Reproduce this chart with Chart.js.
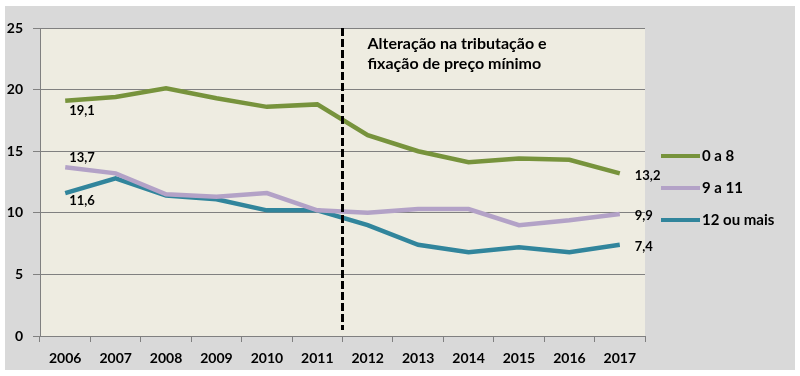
<!DOCTYPE html>
<html>
<head>
<meta charset="utf-8">
<script src="https://cdn.jsdelivr.net/npm/chart.js@4.4.1/dist/chart.umd.min.js"></script>
<style>
  html, body { margin: 0; padding: 0; background: #fff; }
  #wrap { width: 800px; height: 376px; }
</style>
</head>
<body>
<div id="wrap"><canvas id="chartcanvas" width="800" height="376"></canvas></div>
<script>
let years = ["2006", "2007", "2008", "2009", "2010", "2011", "2012", "2013", "2014", "2015", "2016", "2017"];
let serieA = [19.1, 19.4, 20.1, 19.3, 18.6, 18.8, 16.3, 15.0, 14.1, 14.4, 14.3, 13.2];   // 0 a 8
let serieB = [13.7, 13.2, 11.5, 11.3, 11.6, 10.2, 10.0, 10.3, 10.3, 9.0, 9.4, 9.9];      // 9 a 11
let serieC = [11.6, 12.8, 11.4, 11.1, 10.2, 10.2, 9.0, 7.4, 6.8, 7.2, 6.8, 7.4];         // 12 ou mais
let seriesNames = ["0 a 8", "9 a 11", "12 ou mais"];
let seriesColors = ["#77933c", "#b3a2c7", "#31859c"];
let yTicks = [0, 5, 10, 15, 20, 25];
let noteLines = ["Alteração na tributação e", "fixação de preço mínimo"];

const FONT = "Lato, 'Open Sans', sans-serif";

// fundo cinza e área do gráfico bege
const backgroundPlugin = {
    id: 'fundo',
    beforeDraw(chart) {
        let ctx = chart.ctx;
        let a = chart.chartArea;
        ctx.save();
        ctx.fillStyle = '#ffffff';
        ctx.fillRect(0, 0, chart.width, chart.height);
        ctx.fillStyle = '#d9d9d9';
        ctx.fillRect(5, 6, 790, 364);
        ctx.fillStyle = '#eeece1';
        ctx.fillRect(a.left, a.top, a.right - a.left, a.bottom - a.top);
        ctx.restore();
    }
};

// linha tracejada, nota, rótulos e legenda
const extrasPlugin = {
    id: 'extras',
    afterDatasetsDraw(chart) {
        let ctx = chart.ctx;
        let a = chart.chartArea;
        let xs = chart.scales.x;
        let xLine = (xs.getPixelForTick(5) + xs.getPixelForTick(6)) / 2;

        ctx.save();
        ctx.strokeStyle = '#000';
        ctx.lineWidth = 3;
        ctx.setLineDash([8, 3]);
        ctx.beginPath();
        ctx.moveTo(xLine, a.top);
        ctx.lineTo(xLine, a.bottom - 6);
        ctx.stroke();
        ctx.setLineDash([]);

        ctx.fillStyle = '#000';
        ctx.font = "bold 16px " + FONT;
        ctx.textBaseline = 'middle';
        ctx.textAlign = 'left';
        ctx.fillText(noteLines[0], xLine + 25, 44);
        ctx.fillText(noteLines[1], xLine + 25, 64);

        // rótulos de valores
        ctx.font = "bold 13px " + FONT;
        let first = [[4, 10], [4, -9], [4, 8]];
        chart.data.datasets.forEach(function(ds, i) {
            let meta = chart.getDatasetMeta(i);
            let p0 = meta.data[0];
            ctx.fillText(String(ds.data[0]).replace('.', ','), p0.x + first[i][0], p0.y + first[i][1]);
            let last = ds.data.length - 1;
            let pl = meta.data[last];
            ctx.fillText(String(ds.data[last]).replace('.', ','), pl.x + 15, pl.y + 2);
        });

        // legenda
        ctx.font = "bold 15px " + FONT;
        let legendY = [156, 188, 220];
        seriesNames.forEach(function(name, i) {
            ctx.strokeStyle = seriesColors[i];
            ctx.lineWidth = 4;
            ctx.beginPath();
            ctx.moveTo(661, legendY[i]);
            ctx.lineTo(700, legendY[i]);
            ctx.stroke();
            ctx.fillStyle = '#000';
            ctx.fillText(name, 702, legendY[i]);
        });
        ctx.restore();
    }
};

let ctx = document.getElementById('chartcanvas').getContext('2d');
let lineChart = new Chart(ctx, {
    type: 'line',
    data: {
        labels: years,
        datasets: [serieA, serieB, serieC].map(function(values, i) {
            return {
                label: seriesNames[i],
                data: values,
                borderColor: seriesColors[i],
                borderWidth: 4.5,
                pointRadius: 0,
                tension: 0,
                fill: false
            };
        })
    },
    options: {
        responsive: false,
        animation: false,
        devicePixelRatio: 1,
        layout: { padding: { left: 0, right: 155, top: 28, bottom: 0 } },
        plugins: {
            legend: { display: false },
            tooltip: { enabled: false }
        },
        scales: {
            x: {
                offset: true,
                grid: {
                    offset: true,
                    drawOnChartArea: false,
                    drawTicks: true,
                    tickLength: 6,
                    color: '#808080'
                },
                border: { color: '#808080', width: 1 },
                ticks: {
                    color: '#000',
                    font: { family: FONT, size: 14, weight: 'bold' },
                    padding: 8,
                    maxRotation: 0
                },
                afterFit(scale) { scale.height = 40; }
            },
            y: {
                min: 0,
                max: 25,
                afterBuildTicks(scale) {
                    scale.ticks = yTicks.map(function(v) { return { value: v }; });
                },
                grid: {
                    color: '#808080',
                    tickLength: 7,
                    drawTicks: true
                },
                border: { color: '#808080', width: 1 },
                ticks: {
                    color: '#000',
                    font: { family: FONT, size: 14, weight: 'bold' },
                    padding: 10
                },
                afterFit(scale) { scale.width = 40; }
            }
        }
    },
    plugins: [backgroundPlugin, extrasPlugin]
});
</script>
</body>
</html>
